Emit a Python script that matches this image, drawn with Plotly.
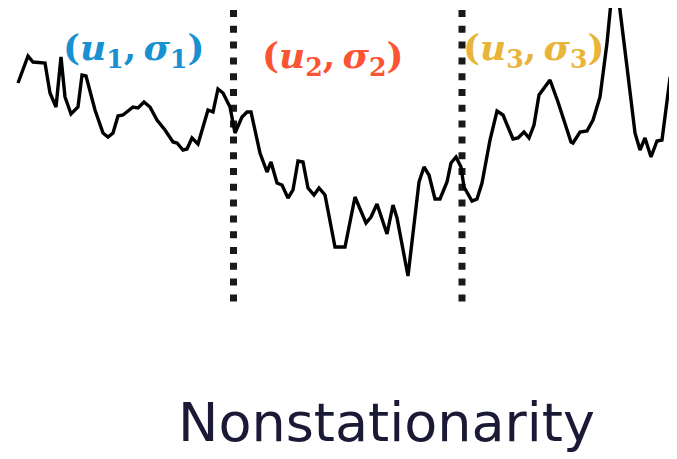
import plotly.graph_objects as go

# time index (horizontal position) and signal level
t = [18, 28, 33, 45, 50, 56, 61, 65, 71, 78, 82, 86, 95, 103, 108, 113, 118, 123, 133, 138,
     144, 150, 157, 165, 173, 177, 183, 187, 192, 198, 208, 213, 218, 223, 230, 235,
     242, 247, 251, 260, 267, 271, 277, 282, 288, 293, 298, 303, 308, 314, 319, 325,
     335, 345, 355, 366, 371, 377, 387, 393, 397, 408, 419, 424, 429, 435, 440, 447,
     451, 456, 461, 464, 472, 477, 482, 490, 497, 503, 513, 518, 524, 529, 534, 539,
     550, 558, 571, 573, 580, 587, 593, 600, 607, 611, 615, 619, 627, 635, 640, 645,
     651, 657, 662, 670, 677]
level = [217, 244, 238, 237, 207, 193, 243, 203, 186, 193, 225, 224, 190, 167, 163, 167,
         184, 185, 193, 192, 198, 193, 180, 170, 158, 157, 150, 151, 162, 156, 190, 188,
         211, 207, 193, 167, 183, 188, 188, 147, 128, 138, 117, 115, 102, 110, 139, 138,
         112, 105, 112, 105, 53, 53, 103, 77, 83, 96, 66, 95, 82, 24, 118, 133, 125, 101,
         101, 118, 137, 143, 133, 113, 99, 101, 117, 160, 189, 185, 161, 162, 168, 162,
         175, 205, 220, 198, 158, 157, 168, 169, 180, 203, 257, 298, 308, 298, 233, 167,
         150, 162, 143, 159, 160, 222, 237]

# segment boundaries (regime changes)
boundaries = [233.5, 462]

# regime labels
labels = ["(<i>u</i><sub>1</sub>,\u2009<i>σ</i><sub>1</sub>)",
          "(<i>u</i><sub>2</sub>,\u2009<i>σ</i><sub>2</sub>)",
          "(<i>u</i><sub>3</sub>,\u2009<i>σ</i><sub>3</sub>)"]
label_x = [134, 333, 534]
label_y = [250, 242, 250]
label_colors = ["#1890D2", "#FA5434", "#E8B43A"]

title_text = "Nonstationarity"

fig = go.Figure()

for b in boundaries:
    fig.add_shape(type="line", x0=b, x1=b, y0=290, y1=-4, xref="x", yref="y",
                  line=dict(color="#1a1a1a", width=7, dash="7px,8.8px"), layer="below")

fig.add_trace(go.Scatter(x=t, y=level, mode="lines",
                         line=dict(color="black", width=3.4, shape="linear"),
                         hoverinfo="skip", showlegend=False, cliponaxis=True))

for txt, x, y, c in zip(labels, label_x, label_y, label_colors):
    fig.add_annotation(x=x, y=y, xref="x", yref="y", text="<b>" + txt + "</b>",
                       showarrow=False, xanchor="center", yanchor="middle",
                       font=dict(family="DejaVu Serif", size=36, color=c))

fig.add_annotation(x=386, y=-122, xref="x", yref="y", text=title_text,
                   showarrow=False, xanchor="center", yanchor="middle",
                   font=dict(family="DejaVu Sans", size=54, color="#1b1a36"))

# page body has an 8px offset; ranges compensate so marks sit where the picture has them
fig.update_xaxes(range=[8, 685], visible=False, fixedrange=True)
fig.update_yaxes(range=[-167, 292], visible=False, fixedrange=True)
fig.update_layout(width=677, height=459, margin=dict(l=0, r=0, t=0, b=0),
                  paper_bgcolor="white", plot_bgcolor="white", showlegend=False)

fig.write_html("out.html")
